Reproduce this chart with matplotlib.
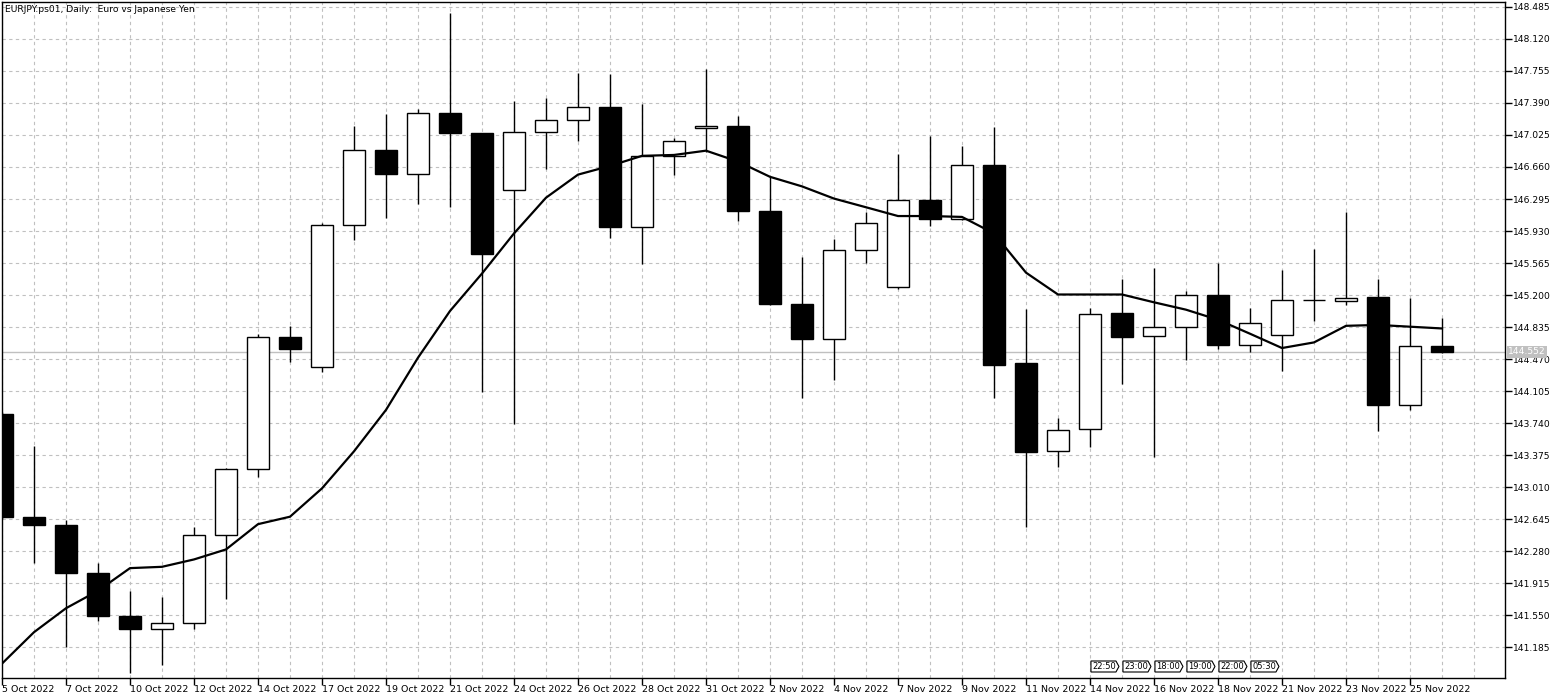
import matplotlib
matplotlib.use("Agg")
import matplotlib.pyplot as plt
from matplotlib.patches import Rectangle, Polygon
import matplotlib.transforms as mtransforms

# ---------------- data ----------------
dates = ["5 Oct 2022", "6 Oct 2022", "7 Oct 2022", "9 Oct 2022", "10 Oct 2022", "11 Oct 2022",
         "12 Oct 2022", "13 Oct 2022", "14 Oct 2022", "16 Oct 2022", "17 Oct 2022", "18 Oct 2022",
         "19 Oct 2022", "20 Oct 2022", "21 Oct 2022", "23 Oct 2022", "24 Oct 2022", "25 Oct 2022",
         "26 Oct 2022", "27 Oct 2022", "28 Oct 2022", "30 Oct 2022", "31 Oct 2022", "1 Nov 2022",
         "2 Nov 2022", "3 Nov 2022", "4 Nov 2022", "6 Nov 2022", "7 Nov 2022", "8 Nov 2022",
         "9 Nov 2022", "10 Nov 2022", "11 Nov 2022", "13 Nov 2022", "14 Nov 2022", "15 Nov 2022",
         "16 Nov 2022", "17 Nov 2022", "18 Nov 2022", "20 Nov 2022", "21 Nov 2022", "22 Nov 2022",
         "23 Nov 2022", "24 Nov 2022", "25 Nov 2022", "27 Nov 2022"]

opens = [143.842, 142.675, 142.585, 142.039, 141.543, 141.394, 141.468, 142.466, 143.221, 144.721,
         144.378, 146.002, 146.851, 146.583, 147.273, 147.045, 146.394, 147.055, 147.194, 147.343,
         145.977, 146.787, 147.099, 147.129, 146.161, 145.098, 144.696, 145.719, 145.287, 146.280,
         146.072, 146.682, 144.428, 143.425, 143.678, 145.000, 144.736, 144.835, 145.202, 144.636,
         144.746, 145.140, 145.133, 145.173, 143.951, 144.621]
highs = [143.870, 143.479, 142.635, 142.148, 141.831, 141.756, 142.556, 143.230, 144.761, 144.850,
         146.027, 147.129, 147.268, 147.318, 148.410, 147.050, 147.417, 147.442, 147.730, 147.715,
         147.383, 146.995, 147.775, 147.243, 146.548, 145.639, 145.838, 146.151, 146.811, 147.015,
         146.901, 147.114, 145.039, 143.802, 145.058, 145.381, 145.505, 145.247, 145.565, 145.058,
         145.481, 145.729, 146.151, 145.381, 145.168, 144.944]
lows = [142.650, 142.153, 141.185, 141.483, 140.897, 140.986, 141.394, 141.741, 143.122, 144.433,
        144.323, 145.828, 146.077, 146.240, 146.201, 144.100, 143.728, 146.638, 146.960, 145.853,
        145.555, 146.563, 146.836, 146.042, 145.083, 144.026, 144.234, 145.565, 145.267, 145.992,
        146.052, 144.026, 142.561, 143.246, 143.469, 144.189, 143.355, 144.458, 144.587, 144.552,
        144.338, 144.900, 145.083, 143.653, 143.891, 144.537]
closes = [142.675, 142.575, 142.039, 141.547, 141.394, 141.468, 142.466, 143.221, 144.721, 144.582,
          146.002, 146.851, 146.583, 147.273, 147.045, 145.664, 147.055, 147.194, 147.343, 145.977,
          146.787, 146.955, 147.124, 146.161, 145.098, 144.696, 145.719, 146.027, 146.280, 146.072,
          146.677, 144.408, 143.415, 143.668, 144.989, 144.721, 144.835, 145.202, 144.636, 144.880,
          145.148, 145.145, 145.163, 143.951, 144.621, 144.552]

ma_values = [141.001, 141.359, 141.632, 141.831, 142.089, 142.104, 142.188, 142.302, 142.590, 142.675,
             142.998, 143.420, 143.892, 144.487, 145.019, 145.446, 145.903, 146.310, 146.573, 146.672,
             146.787, 146.797, 146.846, 146.722, 146.548, 146.439, 146.300, 146.201, 146.101, 146.101,
             146.091, 145.903, 145.456, 145.207, 145.207, 145.207, 145.118, 145.034, 144.919, 144.760,
             144.597, 144.661, 144.850, 144.860, 144.840, 144.820]

price_ticks = [141.185, 141.550, 141.915, 142.280, 142.645, 143.010, 143.375, 143.740, 144.105,
               144.470, 144.835, 145.200, 145.565, 145.930, 146.295, 146.660, 147.025, 147.390,
               147.755, 148.120, 148.485]
price_tick_labels = ["%.3f" % v for v in price_ticks]

current_price = 144.552
title_text = "EURJPY.ps01, Daily:  Euro vs Japanese Yen"

event_bars = [34, 35, 36, 37, 38, 39]
event_labels = ["22:50", "23:00", "18:00", "19:00", "22:00", "05:30"]

# ---------------- figure ----------------
W, H = 1558, 698
fig = plt.figure(figsize=(W / 100, H / 100), dpi=100)
ax_left, ax_right, ax_top, ax_bottom = 2, 1505, 2, 678
ax = fig.add_axes([ax_left / W, (H - ax_bottom) / H,
                   (ax_right - ax_left) / W, (ax_bottom - ax_top) / H])

n = len(opens)
bar_px = 32.0
ax.set_xlim(0, (ax_right - ax_left) / bar_px)
ax.set_ylim(140.837, 148.54)

grid_col = "#c0c0c0"
dash = (0, (3, 3))
for i in range(n + 1):
    ax.axvline(i, color=grid_col, lw=0.8, linestyle=dash, zorder=0)
for p in price_ticks:
    ax.axhline(p, color=grid_col, lw=0.8, linestyle=dash, zorder=0)

# current price line
ax.axhline(current_price, color=grid_col, lw=1.0, zorder=1)

body_w = 22.0 / bar_px
for i in range(n):
    o, h, l, c = opens[i], highs[i], lows[i], closes[i]
    ax.plot([i, i], [l, h], color="black", lw=1.0, zorder=2, solid_capstyle="butt")
    bull = c >= o
    ax.add_patch(Rectangle((i - body_w / 2, min(o, c)), body_w, max(abs(c - o), 0.004),
                           facecolor="white" if bull else "black", edgecolor="black",
                           lw=1.0, zorder=3))

ax.plot(range(n), ma_values, color="black", lw=1.6, zorder=4)

# axes styling
for s in ax.spines.values():
    s.set_color("black")
    s.set_linewidth(1.0)

ax.set_xticks(range(0, n, 2))
ax.set_xticklabels([dates[i] for i in range(0, n, 2)], ha="left", fontsize=6.8,
                   family="DejaVu Sans")
ax.tick_params(axis="x", direction="out", length=5, width=1, pad=0.3, colors="black")

ax.yaxis.tick_right()
ax.set_yticks(price_ticks)
ax.set_yticklabels(price_tick_labels, fontsize=6.6, family="DejaVu Sans")
ax.tick_params(axis="y", direction="out", length=5, width=1, pad=0.5, colors="black")

ax.text(3 / (ax_right - ax_left), 1 - 7 / (ax_bottom - ax_top), title_text,
        transform=ax.transAxes, ha="left", va="center", fontsize=6.6, family="DejaVu Sans",
        color="black", zorder=6)

# current price label on the axis
trans_price = mtransforms.blended_transform_factory(ax.transAxes, ax.transData)
ax.text(1 + 3 / (ax_right - ax_left), current_price, "%.3f" % current_price,
        transform=trans_price, ha="left", va="center", fontsize=6.6, color="white",
        family="DejaVu Sans", clip_on=False, zorder=10,
        bbox=dict(boxstyle="square,pad=0.15", facecolor="#c0c0c0", edgecolor="none"))

# event flags at bottom
trans_ev = mtransforms.blended_transform_factory(ax.transData, ax.transAxes)
ah = ax_bottom - ax_top
y0 = (ax_bottom - 672) / ah
y1 = (ax_bottom - 661) / ah
ym = (y0 + y1) / 2
fw = 28.0 / bar_px
fa = 3.0 / bar_px
for b, lab in zip(event_bars, event_labels):
    x0 = b + 0.03
    pts = [(x0, y0), (x0, y1), (x0 + fw - fa, y1), (x0 + fw, ym), (x0 + fw - fa, y0)]
    ax.add_patch(Polygon(pts, closed=True, facecolor="white", edgecolor="black", lw=0.8,
                         transform=trans_ev, zorder=7))
    ax.text(x0 + (fw - fa) / 2 + 0.02, ym, lab, transform=trans_ev, ha="center", va="center",
            fontsize=6, family="DejaVu Sans", zorder=8)

fig.savefig("out.png", dpi=100, facecolor="white")
